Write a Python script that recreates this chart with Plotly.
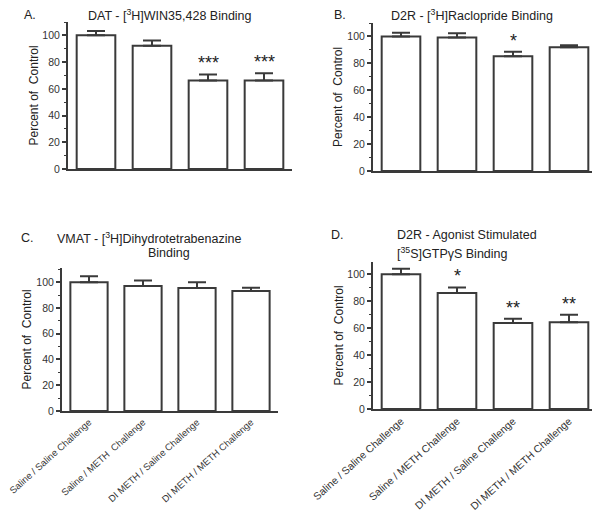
import plotly.graph_objects as go

categories = ["Saline / Saline Challenge", "Saline / METH  Challenge",
              "DI METH / Saline Challenge", "DI METH / METH Challenge"]
categories_d = ["Saline / Saline Challenge", "Saline / METH Challenge",
                "DI METH / Saline Challenge", "DI METH / METH Challenge"]

dat_values = [100, 92.3, 66.2, 66.2]
dat_err = [3.3, 3.8, 4.6, 5.4]
dat_stars = ["", "", "***", "***"]

d2r_values = [100, 99.2, 85.3, 92.0]
d2r_err = [2.8, 3.2, 3.3, 1.5]
d2r_stars = ["", "", "*", ""]

vmat_values = [100, 97.1, 95.5, 93.2]
vmat_err = [4.6, 4.2, 4.5, 2.4]
vmat_stars = ["", "", "", ""]

gtp_values = [100, 86.0, 63.7, 64.4]
gtp_err = [4.0, 4.1, 3.3, 5.4]
gtp_stars = ["", "*", "**", "**"]

# page body has an 8px margin: a 584x507 figure fills the 600x523 window exactly
OFF = 8
W, H = 600 - 2 * OFF, 523 - 2 * OFF


def px(x):
    return (x - OFF) / W


def py(y):
    return 1 - (y - OFF) / H


panels = [
    # values, err, stars, labels, (x0,x1,ytop,ybottom) in window px, yrange, show x labels, tick font
    (dat_values, dat_err, dat_stars, categories, (68, 292, 22, 169), [0, 110], False, 10),
    (d2r_values, d2r_err, d2r_stars, categories, (373, 592, 23, 171), [0, 110], False, 10),
    (vmat_values, vmat_err, vmat_stars, categories, (62, 278, 268, 411), [0, 111], True, 9.5),
    (gtp_values, gtp_err, gtp_stars, categories_d, (373, 592, 262, 409), [0, 109], True, 10.5),
]
# right panels: axis runs to the window edge, categories spaced 56px
xr_right = [-0.5, -0.5 + (592 - 373) / 56]

AX = "#3a3a3a"
FONT = "Liberation Sans, Arial, sans-serif"

fig = go.Figure()
layout = dict(
    width=W, height=H, margin=dict(l=0, r=0, t=0, b=0),
    paper_bgcolor="white", plot_bgcolor="white", showlegend=False,
    font=dict(family=FONT, size=10, color="#222"),
    bargap=0.31,
)
annotations = []

for i, (vals, err, stars, labels, box, yr, showx, xfs) in enumerate(panels):
    n = i + 1
    xa = "x" if n == 1 else f"x{n}"
    ya = "y" if n == 1 else f"y{n}"
    x0, x1, yt, yb = box
    xd = [px(x0), px(x1)]
    yd = [py(yb), py(yt)]
    fig.add_trace(go.Bar(
        x=labels, y=vals, xaxis=xa, yaxis=ya,
        marker=dict(color="white", line=dict(color=AX, width=2)),
        error_y=dict(type="data", array=err, arrayminus=[0] * len(err), symmetric=False,
                     width=9, thickness=2, color=AX),
        hoverinfo="skip", cliponaxis=False,
    ))
    layout["xaxis" if n == 1 else f"xaxis{n}"] = dict(
        domain=xd, anchor=ya, showline=True, linecolor=AX, linewidth=2,
        showgrid=False, zeroline=False, ticks="",
        range=[-0.5, 3.5] if n in (1, 3) else xr_right,
        showticklabels=showx, tickangle=-42, tickfont=dict(size=xfs, color="#333"),
        fixedrange=True, automargin=False,
    )
    layout["yaxis" if n == 1 else f"yaxis{n}"] = dict(
        domain=yd, anchor=xa, showline=True, linecolor=AX, linewidth=2,
        showgrid=False, zeroline=False, range=yr, tick0=0, dtick=20,
        ticks="outside", ticklen=4, tickwidth=1.5, tickcolor=AX,
        minor=dict(ticks="outside", ticklen=2, dtick=10, tickcolor=AX, tickwidth=1),
        tickfont=dict(size=10.5, color="#333"), fixedrange=True, automargin=False,
    )
    for j, s in enumerate(stars):
        if s:
            annotations.append(dict(
                x=labels[j], y=vals[j] + err[j], xref=xa, yref=ya, text=s,
                showarrow=False, xanchor="center", yanchor="bottom", yshift=-1,
                font=dict(size=18, color="#222"),
            ))
    # y-axis title
    annotations.append(dict(
        x=xd[0], y=(yd[0] + yd[1]) / 2, xref="paper", yref="paper",
        xanchor="center", yanchor="middle",
        xshift=-35, text="Percent of  Control", textangle=-90, showarrow=False,
        font=dict(size=12, color="#222"),
    ))

titles = [
    # x, y (window px), anchor, text
    (30, 15, "center", "A."),
    (170, 15, "center", "DAT - [<sup>3</sup>H]WIN35,428 Binding"),
    (340, 15, "center", "B."),
    (472, 15, "center", "D2R - [<sup>3</sup>H]Raclopride Binding"),
    (27, 238, "center", "C."),
    (55, 238, "left", "VMAT - [<sup>3</sup>H]Dihydrotetrabenazine"),
    (169, 253, "center", "Binding"),
    (337, 235, "center", "D."),
    (395, 235, "left", "D2R - Agonist Stimulated"),
    (395, 253, "left", "[<sup>35</sup>S]GTPγS Binding"),
]
for x, y, anc, t in titles:
    annotations.append(dict(x=px(x), y=py(y), xref="paper", yref="paper", text=t,
                            xanchor=anc, yanchor="middle",
                            showarrow=False, font=dict(size=12.5, color="#222")))

layout["annotations"] = annotations
fig.update_layout(**layout)
fig.write_html("out.html")
